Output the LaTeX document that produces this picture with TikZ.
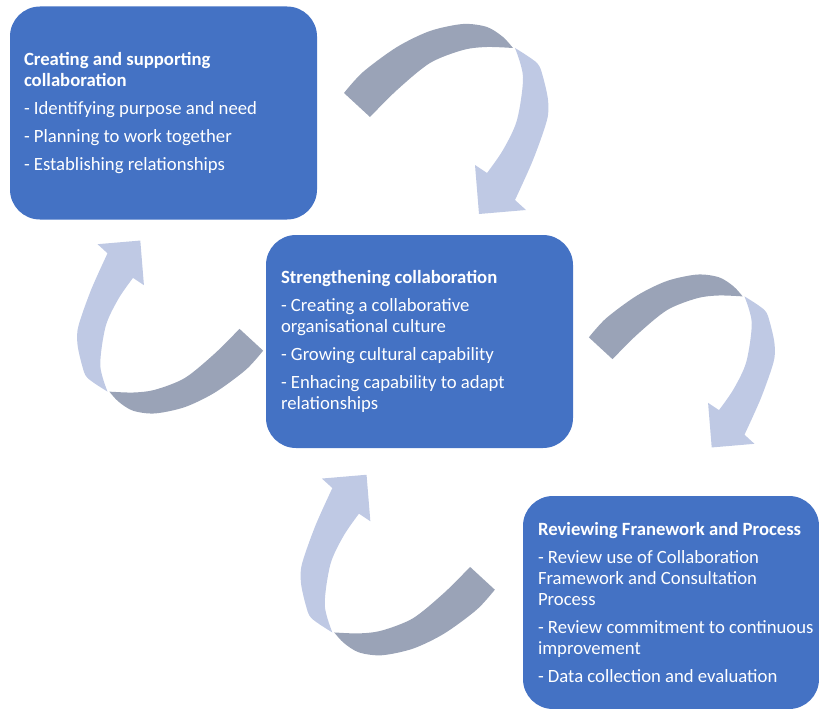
\documentclass[tikz,border=0pt]{standalone}
\usepackage{fontspec}
\setmainfont{Carlito}
\usepackage{tikz}
\usetikzlibrary{positioning}
\definecolor{stageblue}{HTML}{4472C4}
\definecolor{arrowgrey}{HTML}{9AA3B7}
\definecolor{arrowlilac}{HTML}{BFC9E4}

\begin{document}
\begin{tikzpicture}[
      x=1pt, y=-1pt,
      stage/.style={fill=stageblue,rounded corners=30pt,minimum height=213pt,inner sep=0pt},
      stagetext/.style={text=white,align=left,inner sep=0pt,font=\fontsize{18.7pt}{21pt}\selectfont},
      backhalf/.style={fill=arrowgrey},
      fronthalf/.style={fill=arrowlilac},
      cyclearrow/.pic={
        % back of the ribbon
        \fill[backhalf] (-104,-26) -- plot[smooth] coordinates {(-104,-26) (-85,-47) (-51,-72) (-18,-88) (15,-95) (39,-92) (55,-82) (65,-71)}
          -- plot[smooth] coordinates {(65,-71) (39,-72) (15,-69) (-18,-56) (-51,-29) (-78,-2)} -- cycle;
        % front of the ribbon with the head
        \fill[fronthalf] (67,-71) -- plot[smooth] coordinates {(67,-71) (75,-42) (69,1) (55,31) (39,54)}
          -- (27,46) -- (31,95) -- (78,91)
          -- plot[smooth] coordinates {(67,81) (85,41) (99,1) (100,-19) (95,-42) (89,-56) (67,-71)} -- cycle;
      }
    ]
    \useasboundingbox (0,0) rectangle (819,709);
    % Draw the three stages.
    \node[stage,minimum width=307pt] (create) at (163.5,113) {};
    \node[stage,minimum width=307pt] (strengthen) at (419.5,341.5) {};
    \node[stage,minimum width=296pt] (review) at (671,602.5) {};
    % Write the stages.
    \node[stagetext,right=14pt of create.west] (createtext) {\textbf{Creating and supporting}\\\textbf{collaboration}\\[7pt]
      - Identifying purpose and need\\[7pt]
      - Planning to work together\\[7pt]
      - Establishing relationships};
    \node[stagetext,right=15pt of strengthen.west] (strengthentext) {\textbf{Strengthening collaboration}\\[7pt]
      - Creating a collaborative\\organisational culture\\[7pt]
      - Growing cultural capability\\[7pt]
      - Enhacing capability to adapt\\relationships};
    \node[stagetext,right=15pt of review.west] (reviewtext) {\textbf{Reviewing Franework and Process}\\[7pt]
      - Review use of Collaboration\\Framework and Consultation\\Process\\[7pt]
      - Review commitment to continuous\\improvement\\[7pt]
      - Data collection and evaluation};
    % Draw the cycle arrows.
    \pic (toparrow) at (448,119) {cyclearrow};
    \pic[scale=0.91] (rightarrow) at (683.5,361) {cyclearrow};
    \pic[rotate=180,scale=0.91] (leftarrow) at (168.5,327) {cyclearrow};
    \pic[rotate=180,scale=0.95] (bottomarrow) at (396,565) {cyclearrow};
\end{tikzpicture}
\end{document}
